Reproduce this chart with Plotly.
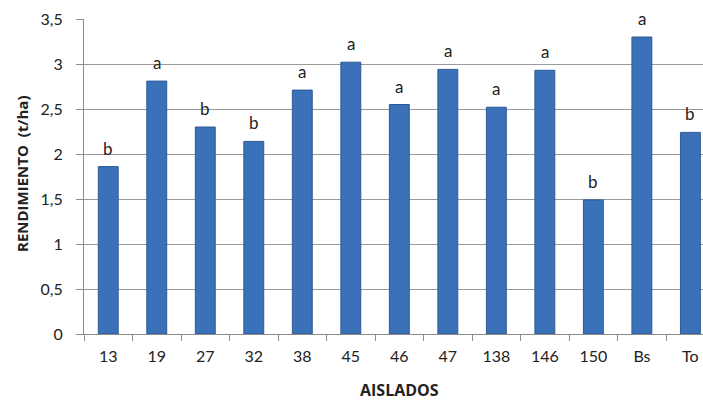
import plotly.graph_objects as go

categories = ["13", "19", "27", "32", "38", "45", "46", "47", "138", "146", "150", "Bs", "To"]
rendimiento = [1.86, 2.81, 2.30, 2.14, 2.71, 3.02, 2.55, 2.94, 2.52, 2.93, 1.49, 3.30, 2.24]
letters = ["b", "a", "b", "b", "a", "a", "a", "a", "a", "a", "b", "a", "b"]
y_ticks = [0, 0.5, 1, 1.5, 2, 2.5, 3, 3.5]

W, H = 703, 400
L, R, T, B = 84, 0, 19, 66
pw = W - L - R
ph = H - T - B

TXT = "#222222"

fig = go.Figure()
fig.add_trace(go.Bar(
    x=categories, y=rendimiento, width=0.41,
    marker=dict(color="#3a71b8", line=dict(color="#2c5a94", width=1)),
    hoverinfo="x+y", cliponaxis=False,
))

annotations = []
for i, (v, t) in enumerate(zip(rendimiento, letters)):
    annotations.append(dict(x=i, y=v, xref="x", yref="y", text=t, showarrow=False,
                            yanchor="bottom", yshift=6,
                            font=dict(family="Lato", size=17, color=TXT)))
annotations.append(dict(x=(399 - L) / pw, y=(H - B - 390) / ph, xref="paper", yref="paper",
                        text="<b>AISLADOS</b>", showarrow=False,
                        xanchor="center", yanchor="middle",
                        font=dict(family="Open Sans", size=16, color=TXT)))
annotations.append(dict(x=(22 - L) / pw, y=(H - B - 174) / ph, xref="paper", yref="paper",
                        text="<b>RENDIMIENTO&nbsp;&nbsp;(t/ha)</b>", textangle=-90, showarrow=False,
                        xanchor="center", yanchor="middle",
                        font=dict(family="Open Sans", size=15, color=TXT)))

fig.update_layout(
    width=W, height=H,
    margin=dict(l=L, r=R, t=T, b=B, autoexpand=False),
    paper_bgcolor="white", plot_bgcolor="white",
    separators=",.",
    showlegend=False,
    font=dict(family="Lato", size=14, color=TXT),
    annotations=annotations,
)

fig.update_xaxes(
    type="category",
    range=[-0.5, 12.26], showline=True, linecolor="#8c8c8c", linewidth=1,
    ticks="outside", ticklen=6, tickcolor="#8c8c8c", tickson="boundaries",
    showgrid=False, tickfont=dict(family="Lato", size=16, color=TXT),
    ticklabelstandoff=8, automargin=False,
)
fig.update_yaxes(
    range=[0, 3.5], tickvals=y_ticks, showline=True, linecolor="#8c8c8c", linewidth=1,
    ticks="outside", ticklen=7, tickcolor="#8c8c8c",
    showgrid=True, gridcolor="#9a9a9a", gridwidth=1, zeroline=False,
    tickfont=dict(family="Lato", size=16, color=TXT), ticklabelstandoff=10,
    automargin=False,
)

fig.write_html("out.html", config={"displayModeBar": False},
               post_script="document.body.style.margin='0px';")
